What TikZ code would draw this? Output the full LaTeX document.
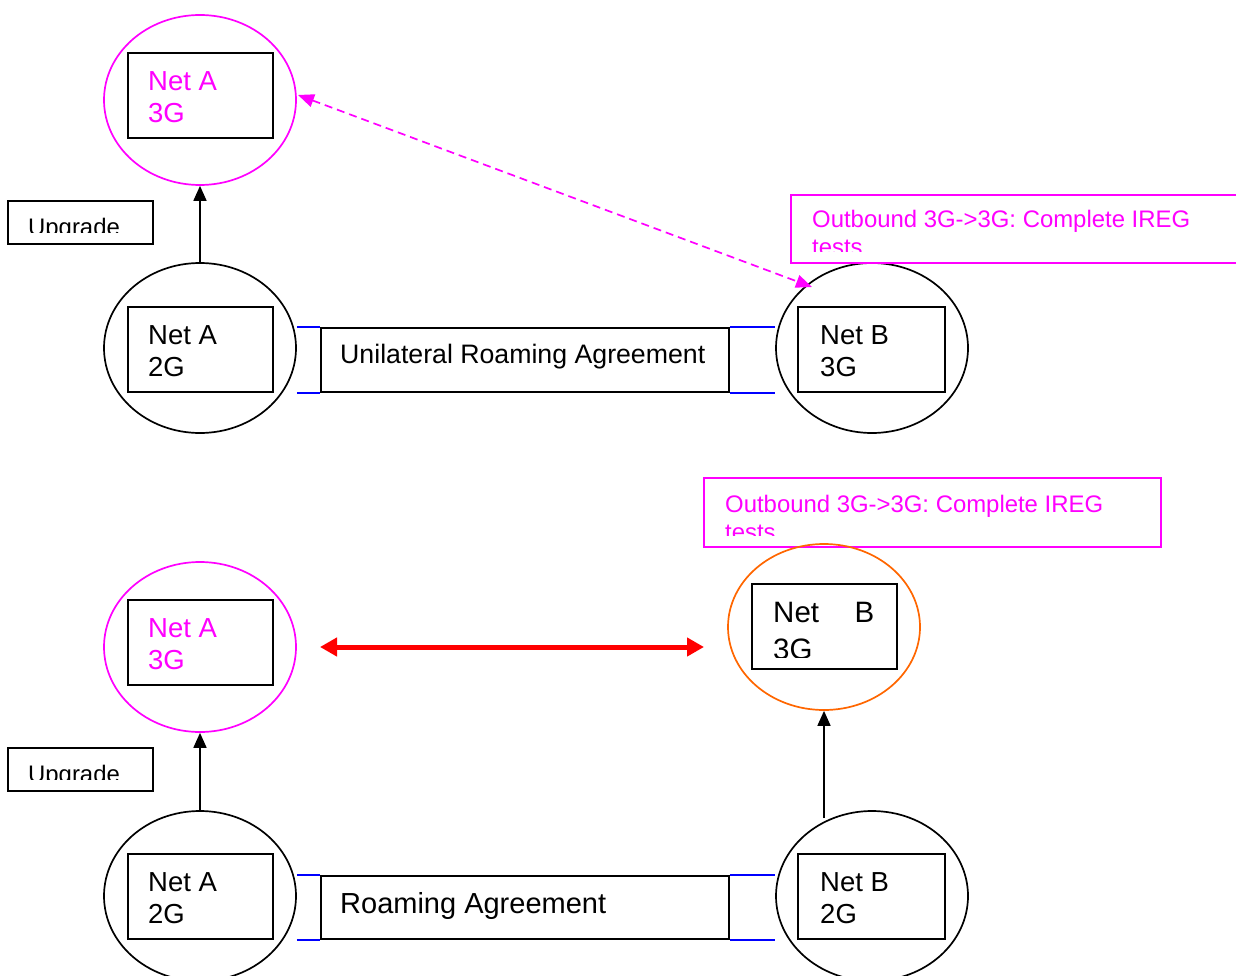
\documentclass[tikz,border=0pt]{standalone}
\usepackage{fontspec}
\setmainfont{Liberation Sans}
\usetikzlibrary{shapes.geometric,arrows.meta}
\definecolor{netmag}{RGB}{255,0,255}
\definecolor{netorange}{RGB}{255,102,0}
\definecolor{linkblue}{RGB}{0,0,255}
\definecolor{linkred}{RGB}{255,0,0}
\tikzset{
  netcloud/.style={draw, ellipse, line width=1.7pt, minimum width=192pt, minimum height=170pt, inner sep=0pt},
  netbox/.style={draw, line width=1.8pt, anchor=north west, minimum width=145pt, minimum height=85pt, inner sep=0pt},
  plainbox/.style={draw, line width=1.8pt, anchor=north west, inner sep=0pt},
  notebox/.style={draw=netmag, line width=1.8pt, anchor=north west, inner sep=0pt},
  lbl/.style={anchor=north west, inner sep=0pt, align=left, font=\fontsize{27.5}{32}\selectfont},
  smalllbl/.style={anchor=north west, inner sep=0pt, align=left, font=\fontsize{23.9}{28}\selectfont},
  upgrade/.style={-{Triangle[length=15pt,width=13pt]}, line width=1.7pt},
  bluelink/.style={draw=linkblue, line width=1.7pt},
}
\begin{document}
\begin{tikzpicture}[x=1pt,y=-1pt]
\useasboundingbox (0,0) rectangle (1236,976);

% ---------- upper scenario: unilateral agreement ----------
\node[netcloud, draw=netmag] (A3Gt) at (200,100) {};
\node[netbox] (A3Gtbox) at (127,52) {};
\node[lbl, text=netmag] (A3Gtlbl) at (148,71) {Net A\\3G};

\node[plainbox, minimum width=145pt, minimum height=43pt] (upgt) at (7,200) {};
\begin{scope}
  \clip (8,201) rectangle (151,233);
  \node[smalllbl] (upgtlbl) at (28,217.5) {Upgrade};
\end{scope}

\node[netcloud] (A2Gt) at (200,348) {};
\node[netbox] (A2Gtbox) at (127,306) {};
\node[lbl] (A2Gtlbl) at (148,325) {Net A\\2G};

\node[netcloud] (B3Gt) at (872,348) {};
\node[netbox, minimum width=147pt] (B3Gtbox) at (797,306) {};
\node[lbl] (B3Gtlbl) at (820,325) {Net B\\3G};

\node[plainbox, minimum width=408pt, minimum height=64pt] (agrt) at (320,327) {};
\node[lbl, font=\fontsize{26.7}{31}\selectfont] (agrtlbl) at (340,344) {Unilateral Roaming Agreement};

\draw[bluelink] (A2Gt.east |- agrt.north west) -- (agrt.north west);
\draw[bluelink] (A2Gt.east |- agrt.south west) -- (agrt.south west);
\draw[bluelink] (agrt.north east) -- (B3Gt.west |- agrt.north east);
\draw[bluelink] (agrt.south east) -- (B3Gt.west |- agrt.south east);

\draw[upgrade] (A2Gt.north) -- (A3Gt.south);

\node[notebox, minimum width=460pt, minimum height=68pt] (outt) at (790,194) {};
\begin{scope}
  \clip (792,196) rectangle (1236,252);
  \node[smalllbl, text=netmag] (outtlbl) at (812,209.5) {Outbound 3G->3G: Complete IREG\\tests};
\end{scope}

\coordinate (dashA) at (298,95);
\coordinate (dashB) at (812,287);
\draw[netmag, line width=1.7pt, dash pattern=on 8pt off 5pt,
  {Triangle[length=16pt,width=13pt]}-{Triangle[length=16pt,width=13pt]}] (dashA) -- (dashB);

% ---------- lower scenario: bilateral agreement ----------
\node[notebox, minimum width=457pt, minimum height=69pt] (outb) at (703,477) {};
\begin{scope}
  \clip (705,479) rectangle (1158,535);
  \node[smalllbl, text=netmag] (outblbl) at (725,494.5) {Outbound 3G->3G: Complete IREG\\tests};
\end{scope}

\node[netcloud, draw=netorange, minimum height=166pt] (B3Gb) at (824,627) {};
\node[netbox] (B3Gbbox) at (751,583) {};
\begin{scope}
  \clip (753,585) rectangle (894,657);
  \node[lbl, font=\fontsize{29.5}{37}\selectfont] (B3Gblbl) at (773,602) {\hbox to 101pt{Net\hfill B}\\3G};
\end{scope}

\node[netcloud, draw=netmag] (A3Gb) at (200,647) {};
\node[netbox] (A3Gbbox) at (127,599) {};
\node[lbl, text=netmag] (A3Gblbl) at (148,618) {Net A\\3G};

\coordinate (redA) at (320,647);
\coordinate (redB) at (704,647);
\draw[linkred, line width=5pt,
  {Triangle[length=17pt,width=18pt]}-{Triangle[length=17pt,width=18pt]}] (redA) -- (redB);

\node[plainbox, minimum width=145pt, minimum height=43pt] (upgb) at (7,747) {};
\begin{scope}
  \clip (8,748) rectangle (151,779);
  \node[smalllbl] (upgblbl) at (28,764.5) {Upgrade};
\end{scope}

\node[netcloud] (A2Gb) at (200,896) {};
\node[netbox] (A2Gbbox) at (127,853) {};
\node[lbl] (A2Gblbl) at (148,872) {Net A\\2G};

\node[netcloud] (B2Gb) at (872,896) {};
\node[netbox, minimum width=147pt] (B2Gbbox) at (797,853) {};
\node[lbl] (B2Gblbl) at (820,872) {Net B\\2G};

\node[plainbox, minimum width=408pt, minimum height=63pt] (agrb) at (320,875) {};
\node[lbl, font=\fontsize{29}{34}\selectfont] (agrblbl) at (340,892) {Roaming Agreement};

\draw[bluelink] (A2Gb.east |- agrb.north west) -- (agrb.north west);
\draw[bluelink] (A2Gb.east |- agrb.south west) -- (agrb.south west);
\draw[bluelink] (agrb.north east) -- (B2Gb.west |- agrb.north east);
\draw[bluelink] (agrb.south east) -- (B2Gb.west |- agrb.south east);

\draw[upgrade] (A2Gb.north) -- (A3Gb.south);
\coordinate (B2Gtop) at (824,818);
\draw[upgrade] (B2Gtop) -- (B3Gb.south);
\end{tikzpicture}
\end{document}
